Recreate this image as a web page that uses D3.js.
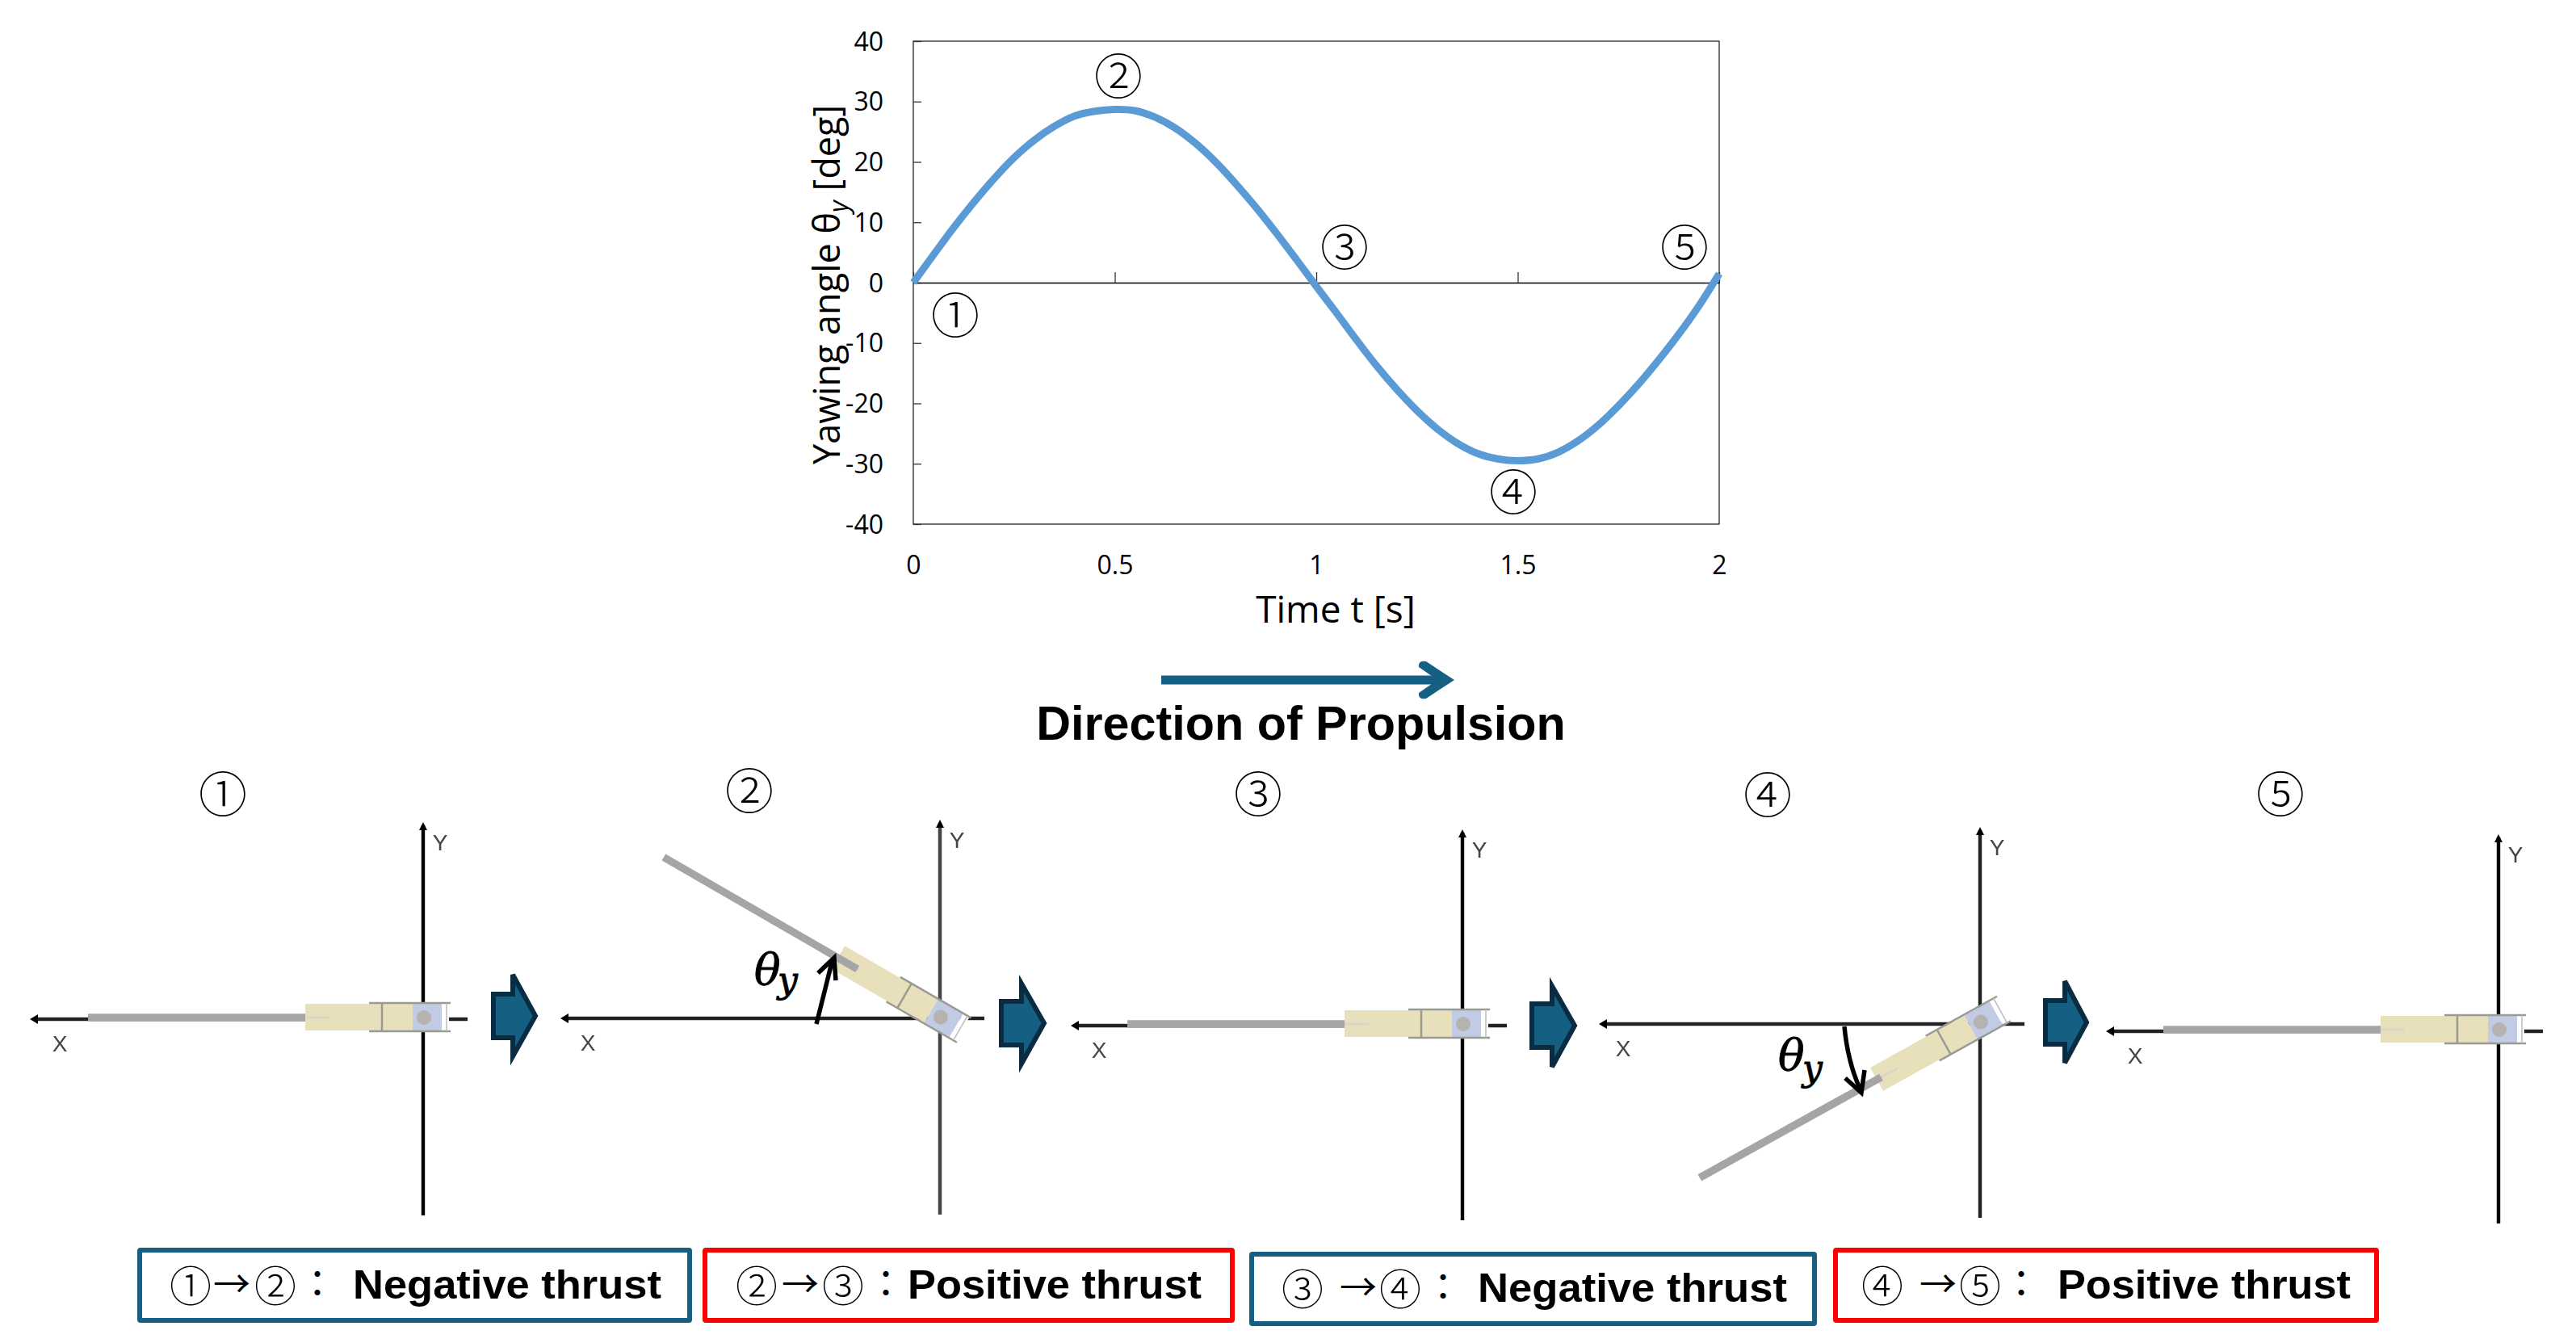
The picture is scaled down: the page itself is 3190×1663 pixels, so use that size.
<!DOCTYPE html>
<html><head><meta charset="utf-8">
<script src="https://cdn.jsdelivr.net/npm/d3@7"></script>
<style>html,body{margin:0;padding:0;background:#fff}svg{display:block}</style>
</head><body><svg id="c" width="3190" height="1663"></svg>
<script>
// ---- data ----
const timeValues = [0,0.05,0.1,0.15,0.2,0.25,0.3,0.35,0.4,0.45,0.5,0.55,0.6,0.65,0.7,0.75,0.8,0.85,0.9,0.95,1,1.05,1.1,1.15,1.2,1.25,1.3,1.35,1.4,1.45,1.5,1.55,1.6,1.65,1.7,1.75,1.8,1.85,1.9,1.95,2];
const yawValues = [0,4.6,9.1,13.3,17.2,20.7,23.6,25.9,27.6,28.4,28.7,28.5,27.4,25.6,23.1,20,16.4,12.5,8.3,3.9,-0.6,-5,-9.5,-13.8,-17.7,-21.2,-24.2,-26.6,-28.3,-29.2,-29.5,-29.2,-28.1,-26.2,-23.6,-20.4,-16.8,-12.8,-8.5,-3.8,1.5];
const xTickValues = [0,0.5,1,1.5,2];
const yTickValues = [-40,-30,-20,-10,0,10,20,30,40];
const stageLabels = ["①","②","③","④","⑤"];
const yawStage = [0,30,0,-29,0];
const thrustLabels = ["Negative thrust","Positive thrust","Negative thrust","Positive thrust"];
const thrustFrom = ["①","②","③","④"];
const thrustTo = ["②","③","④","⑤"];

// ---- layout ----
const TICK_FONT = "'Open Sans'", BOLD_FONT = "'Liberation Sans'", CJK = "'Noto Sans CJK JP'";
const BLUE = "#156082", RED = "#ff0000";
const svg = d3.select("#c");
const plot = {l:1131, r:2129, t:51, b:649};
const xScale = d3.scaleLinear().domain([0,2]).range([plot.l, plot.r]);
const yScale = d3.scaleLinear().domain([-40,40]).range([plot.b, plot.t]);

const defs = svg.append("defs");
defs.append("filter").attr("id","soft").attr("x","-20%").attr("y","-20%").attr("width","140%").attr("height","140%")
  .append("feGaussianBlur").attr("stdDeviation",0.6);

function circled(sel, ch, cx, cy, size){
  return sel.append("text").attr("x",cx).attr("y",cy+size*0.355+3).attr("text-anchor","middle")
    .attr("font-family",CJK).attr("font-weight",300).attr("font-size",size).attr("fill","#000").text(ch);
}

// ---- chart ----
const chartG = svg.append("g");
chartG.append("rect").attr("x",plot.l).attr("y",plot.t).attr("width",plot.r-plot.l).attr("height",plot.b-plot.t)
  .attr("fill","none").attr("stroke","#333").attr("stroke-width",1.4);

const yAxis = d3.axisLeft(yScale).tickValues(yTickValues).tickSizeInner(-10).tickSizeOuter(0).tickFormat(d=>String(d));
const yg = chartG.append("g").attr("transform",`translate(${plot.l},0)`).call(yAxis);
yg.select(".domain").remove();
yg.selectAll("line").attr("stroke","#333").attr("stroke-width",1.3);
yg.selectAll("text").attr("font-family",TICK_FONT).attr("font-size",32).attr("fill","#000").attr("dy","0.35em").attr("x",-37);

const xTickAxis = d3.axisBottom(xScale).tickValues(xTickValues).tickSizeInner(-13).tickSizeOuter(0).tickFormat("");
const xt = chartG.append("g").attr("transform",`translate(0,${yScale(0)})`).call(xTickAxis);
xt.select(".domain").attr("stroke","#000").attr("stroke-width",1.6);
xt.selectAll("line").attr("stroke","#333").attr("stroke-width",1.3);

const xLabAxis = d3.axisBottom(xScale).tickValues(xTickValues).tickSize(0).tickPadding(0).tickFormat(d=>String(d));
const xl = chartG.append("g").attr("transform",`translate(0,${plot.b})`).call(xLabAxis);
xl.select(".domain").remove();
xl.selectAll("text").attr("font-family",TICK_FONT).attr("font-size",32).attr("fill","#000").attr("y",62).attr("dy",0);

const yawLine = d3.line().x(d=>xScale(d[0])).y(d=>yScale(d[1])).curve(d3.curveCatmullRom);
chartG.append("path").datum(timeValues.map((t,i)=>[t,yawValues[i]])).attr("d",yawLine)
  .attr("fill","none").attr("stroke","#5b9bd5").attr("stroke-width",9);

chartG.append("text").attr("x",1654).attr("y",771).attr("text-anchor","middle").attr("font-family",TICK_FONT)
  .attr("font-size",46).attr("fill","#000").text("Time t [s]");

const yTitle = chartG.append("text").attr("transform","translate(1040,575) rotate(-90)").attr("font-family",TICK_FONT)
  .attr("font-size",45).attr("fill","#000");
yTitle.append("tspan").text("Yawing angle θ");
yTitle.append("tspan").attr("font-style","italic").attr("font-size",32).attr("dy",10).text("y");
yTitle.append("tspan").attr("dy",-10).text(" [deg]");

const chartMarks = [[1183,389],[1385,93],[1665,305],[1874,608],[2086,305]];
stageLabels.forEach((s,i)=>circled(chartG,s,chartMarks[i][0],chartMarks[i][1],60));

// ---- propulsion arrow ----
const propG = svg.append("g");
propG.append("line").attr("x1",1438).attr("x2",1792).attr("y1",842).attr("y2",842).attr("stroke",BLUE).attr("stroke-width",11);
propG.append("path").attr("d","M1801,842 L1766,819 Q1756,817 1757,826 L1780,842 L1757,858 Q1756,867 1766,865 Z").attr("fill",BLUE);
propG.append("text").attr("x",1611).attr("y",916).attr("text-anchor","middle").attr("font-family",BOLD_FONT)
  .attr("font-weight",700).attr("font-size",59.3).attr("fill","#000").text("Direction of Propulsion");

// ---- mechanism panels ----
const panelOrigin = [[524,1262],[1164,1261],[1811,1270],[2452,1268],[3094,1277]];
const panelTop = [1022,1019,1031,1028,1037];
const panelBottom = [1505,1504,1511,1508,1515];
const panelLeft = [42,699,1331,1985,2613];
const panelLabel = [[276,982],[928,978],[1558,982],[2189,983],[2824,982]];
const panelAxisColor = ["#000","#444","#000","#222","#000"];
const rodInner = [-146,-118,-146,-140,-146];
const rodOuter = [-415,-395,-415,-397,-415];
const xLetterOffset = [-450,-436,-450,-442,-450];

stageLabels.forEach((s,i)=>{
  const [ox,oy] = panelOrigin[i];
  circled(svg,s,panelLabel[i][0],panelLabel[i][1],60);
  const p = svg.append("g").attr("filter","url(#soft)");
  const col = panelAxisColor[i], left = panelLeft[i];
  // axes
  p.append("line").attr("x1",left).attr("x2",ox+55).attr("y1",oy).attr("y2",oy).attr("stroke","#ccc").attr("stroke-width",6);
  p.append("line").attr("x1",left).attr("x2",ox+55).attr("y1",oy).attr("y2",oy).attr("stroke","#222").attr("stroke-width",4);
  p.append("line").attr("x1",ox).attr("x2",ox).attr("y1",panelTop[i]).attr("y2",panelBottom[i]).attr("stroke","#ccc").attr("stroke-width",6);
  p.append("line").attr("x1",ox).attr("x2",ox).attr("y1",panelTop[i]).attr("y2",panelBottom[i]).attr("stroke",col).attr("stroke-width",4);
  p.append("path").attr("d",`M${left-5},${oy} l10,-6 v12 Z`).attr("fill","#000");
  p.append("path").attr("d",`M${ox},${panelTop[i]-4} l-5,10 h10 Z`).attr("fill","#000");
  p.append("text").attr("x",ox+xLetterOffset[i]).attr("y",oy+40).attr("text-anchor","middle")
    .attr("font-family",BOLD_FONT).attr("font-size",28).attr("fill","#444").text("X");
  p.append("text").attr("x",ox+21).attr("y",panelTop[i]+31).attr("text-anchor","middle")
    .attr("font-family",BOLD_FONT).attr("font-size",28).attr("fill","#444").text("Y");

  // body, rotated about the origin (yaw from the series)
  const b = p.append("g").attr("transform",`translate(${ox},${oy-2}) rotate(${yawStage[i]})`);
  b.append("rect").attr("x",-146).attr("y",-17).attr("width",133).attr("height",33).attr("fill","#e8e0bb");
  b.append("rect").attr("x",-13).attr("y",-17).attr("width",36).attr("height",33).attr("fill","#c2cbe4");
  b.append("rect").attr("x",23).attr("y",-17).attr("width",9).attr("height",33).attr("fill","#fff");
  b.append("circle").attr("r",9).attr("cx",1).attr("cy",0).attr("fill","#b6b2b0");
  b.append("path").attr("d","M-67,-18 H34 M-67,17 H34 M-51,-18 V17")
    .attr("fill","none").attr("stroke","#9a9a94").attr("stroke-width",2.5);
  b.append("path").attr("d","M29,-18 V17").attr("fill","none").attr("stroke","#bbb").attr("stroke-width",1.5);
  b.append("line").attr("x1",-146).attr("x2",-116).attr("y1",0).attr("y2",0).attr("stroke","#d9d6c6").attr("stroke-width",3);
  b.append("line").attr("x1",rodOuter[i]).attr("x2",rodInner[i]).attr("y1",0).attr("y2",0).attr("stroke","#a5a5a5").attr("stroke-width",9.5);
});

// ---- block arrows between panels ----
const blockArrows = [[608,633,665,1199,1258,1316],[1237,1263,1295,1210,1267,1325],[1894,1920,1952,1213,1270,1329],[2530,2555,2586,1207,1266,1324]];
blockArrows.forEach(([x0,xh,xt2,ty,my,by])=>{
  const sh = 27;
  svg.append("path").attr("d",`M${x0+3},${my-sh} H${xh+2} V${ty+8} L${xt2-2},${my} L${xh+2},${by-8} V${my+sh} H${x0+3} Z`)
    .attr("fill",BLUE).attr("stroke","#0a2c42").attr("stroke-width",6);
});

// ---- theta annotations ----
function theta(tx,ty,sx,sy){
  const t = svg.append("g").attr("font-family","'DejaVu Serif'").attr("font-style","italic").attr("fill","#000").attr("stroke","#000").attr("stroke-width",0.9);
  t.append("text").attr("x",tx).attr("y",ty).attr("font-size",54).text("θ");
  t.append("text").attr("x",sx).attr("y",sy).attr("font-size",44).text("y");
}
theta(934,1219,963,1229);
theta(2202,1325,2232,1338);
svg.append("path").attr("d","M1011,1268 L1030,1192").attr("stroke","#000").attr("stroke-width",5.5).attr("fill","none");
svg.append("path").attr("d","M1013,1205 L1033,1186 L1035,1214").attr("stroke","#000").attr("stroke-width",5.5).attr("fill","none");
svg.append("path").attr("d","M2284,1271 Q2288,1315 2304,1350").attr("stroke","#000").attr("stroke-width",5.5).attr("fill","none");
svg.append("path").attr("d","M2285,1335 L2305,1353 L2309,1325").attr("stroke","#000").attr("stroke-width",5.5).attr("fill","none");

// ---- thrust boxes ----
const boxX = [[170,857],[870,1529],[1547,2250],[2270,2946]];
const boxY = [[1545,1638],[1545,1638],[1550,1642],[1545,1638]];
const boxCol = [BLUE,RED,BLUE,RED];
const fromX = [236,937,1613,2331], toX = [341,1044,1734,2452], arrX = [287,991,1682,2400], colonX=[393,1097,1787,2503];
const textX = [[437,819],[1124,1488],[1830,2213],[2548,2911]];
const baseY = [1608,1608,1612,1608];
thrustLabels.forEach((s,i)=>{
  const cy = baseY[i]-17;
  svg.append("rect").attr("x",boxX[i][0]+3).attr("y",boxY[i][0]+3).attr("width",boxX[i][1]-boxX[i][0]-6).attr("height",boxY[i][1]-boxY[i][0]-6)
    .attr("fill","#fff").attr("stroke",boxCol[i]).attr("stroke-width",6).attr("rx",1);
  circled(svg,thrustFrom[i],fromX[i],cy,52);
  circled(svg,thrustTo[i],toX[i],cy,52);
  svg.append("text").attr("x",arrX[i]).attr("y",cy+15).attr("text-anchor","middle").attr("font-family",CJK).attr("font-size",46).attr("fill","#000").text("→");
  svg.append("text").attr("x",colonX[i]).attr("y",cy+15).attr("text-anchor","middle").attr("font-family",CJK).attr("font-weight",400).attr("font-size",46).attr("fill","#000").text("：");
  svg.append("text").attr("x",textX[i][0]).attr("y",baseY[i]).attr("font-family",BOLD_FONT).attr("font-weight",700).attr("font-size",50)
    .attr("textLength",textX[i][1]-textX[i][0]).attr("lengthAdjust","spacingAndGlyphs").attr("fill","#000").text(s);
});
</script></body></html>
